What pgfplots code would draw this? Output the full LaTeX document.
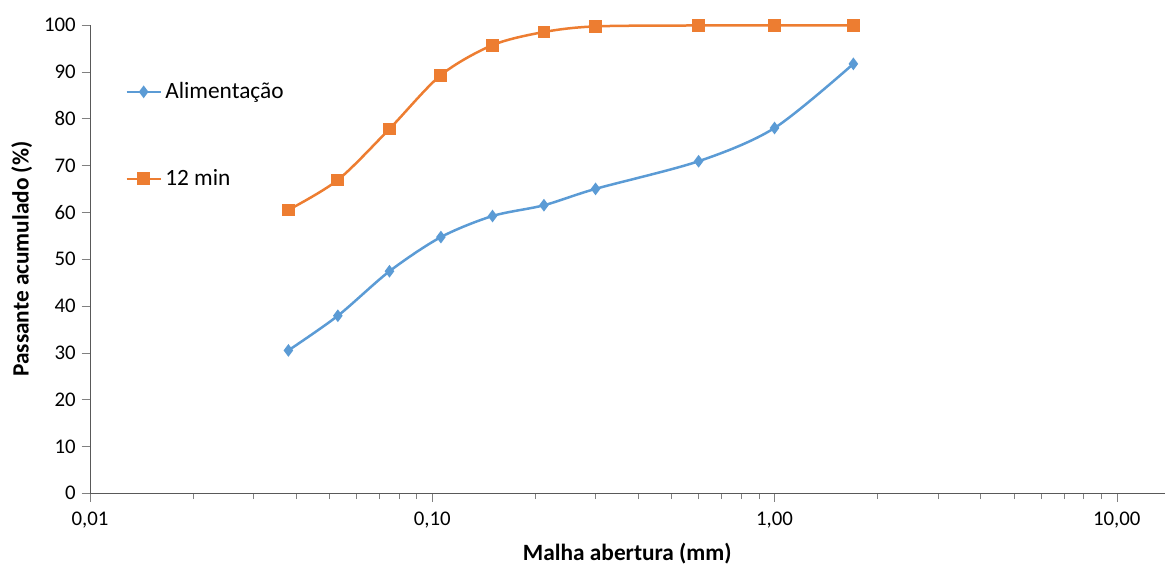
\documentclass[border=0pt]{standalone}
\usepackage{fontspec}
\setmainfont{Carlito}
\usepackage{pgfplots}
\pgfplotsset{compat=1.18}

\definecolor{serA}{HTML}{5B9BD5}
\definecolor{serB}{HTML}{ED7D31}
\definecolor{axgray}{HTML}{595959}

\begin{document}
\begin{tikzpicture}
\begin{axis}[
    xmode=log,
    scale only axis,
    width=645pt, height=281pt,
    xmin=0.01, xmax=13.8,
    ymin=0, ymax=100,
    axis x line=bottom, axis y line=left,
    axis line style={axgray, -},
    xtick={0.01,0.1,1,10},
    xticklabels={{0,01},{0,10},{1,00},{10,00}},
    ytick={0,10,...,100},
    /pgf/number format/assume math mode=true,
    tick style={gray},
    major tick length=5pt, minor tick length=3.5pt,
    tick align=outside,
    ticklabel style={font=\fontsize{12.5}{14}\selectfont, text=black},
    xticklabel style={yshift=-3pt},
    xlabel={\textbf{Malha abertura (mm)}},
    ylabel={\textbf{Passante acumulado (\%)}},
    label style={font=\fontsize{14}{16}\selectfont},
    xlabel style={at={(axis description cs:0.5,-0.128)}, anchor=center},
    ylabel style={at={(axis description cs:-0.0636,0.5)}, anchor=center},
    legend style={draw=none, fill=none, at={(axis description cs:0.0326,0.885)},
        anchor=north west,
        font=\fontsize{14}{16}\selectfont, row sep=37pt,
        inner sep=0pt, legend cell align=left,
        /tikz/every even column/.append style={column sep=3pt}},
    legend image code/.code={
        \draw[#1, line width=1.5pt] (0cm,0cm) -- (0.72cm,0cm);
        \draw[#1, only marks] plot coordinates {(0.36cm,0cm)};
    },
]
\addplot[serA, line width=1.5pt, smooth, mark=diamond*, mark size=2.6pt, mark options={fill=serA}] coordinates {
 (0.038,30.5) (0.053,37.9) (0.075,47.4) (0.106,54.7) (0.150,59.2)
 (0.212,61.5) (0.300,65.0) (0.600,70.9) (1.00,78.0) (1.70,91.7)
};
\addlegendentry{Alimentação}
\addplot[serB, line width=1.5pt, smooth, mark=square*, mark size=3.1pt, mark options={fill=serB}] coordinates {
 (0.038,60.5) (0.053,66.9) (0.075,77.8) (0.106,89.3) (0.150,95.7)
 (0.212,98.5) (0.300,99.7) (0.600,99.9) (1.00,99.9) (1.70,99.9)
};
\addlegendentry{12 min}
\end{axis}
\path ([xshift=-54pt,yshift=-43pt]current axis.south west)
      ([xshift=2pt,yshift=15pt]current axis.north east);
\end{tikzpicture}
\end{document}
